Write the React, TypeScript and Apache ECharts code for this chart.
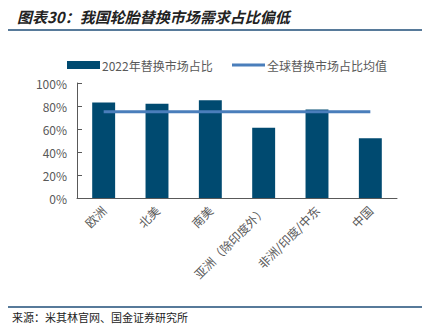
import React, { useEffect, useRef } from "react";
import * as echarts from "echarts";

const categories = ["欧洲", "北美", "南美", "亚洲（除印度外）", "非洲/印度/中东", "中国"];
const shareValues = [83, 82, 85, 61, 77, 52];
const globalAvg = [75, 75, 75, 75, 75, 75];
const yTicks = [0, 20, 40, 60, 80, 100];

const FONT = "'Noto Sans CJK SC', 'Noto Sans', sans-serif";

export default function App() {
  const ref = useRef<HTMLDivElement>(null);
  useEffect(() => {
    if (!ref.current) return;
    const chart = echarts.init(ref.current, undefined, { renderer: "svg" });
    chart.setOption({
      animation: false,
      textStyle: { fontFamily: FONT },
      title: {
        text: "图表30：我国轮胎替换市场需求占比偏低",
        left: 12,
        top: 4,
        textStyle: { fontSize: 15, fontStyle: "italic", fontWeight: "bold", color: "#222", fontFamily: FONT },
      },
      legend: [
        {
          top: 54,
          left: 62,
          itemWidth: 33,
          itemHeight: 8,
          itemGap: 2,
          textStyle: { fontSize: 12, color: "#595959", fontFamily: FONT, padding: [0, 0, 0, -3] },
          data: [{ name: "2022年替换市场占比", icon: "rect" }],
        },
        {
          top: 54,
          left: 227,
          itemWidth: 33,
          itemHeight: 3,
          textStyle: { fontSize: 12, color: "#595959", fontFamily: FONT, padding: [0, 0, 0, -3] },
          data: [{ name: "全球替换市场占比均值", icon: "rect" }],
        },
      ],
      grid: { left: 77, right: 25, top: 83, bottom: 127 },
      xAxis: {
        type: "category",
        data: categories,
        axisLine: { lineStyle: { color: "#595959" } },
        axisTick: { inside: true, alignWithLabel: false, lineStyle: { color: "#595959" } },
        axisLabel: { rotate: 45, fontSize: 12, color: "#595959", interval: 0, margin: 10 },
      },
      yAxis: {
        type: "value",
        min: 0,
        max: 100,
        interval: 20,
        axisLine: { show: true, lineStyle: { color: "#595959" } },
        axisTick: { show: true, inside: true, lineStyle: { color: "#595959" } },
        splitLine: { show: false },
        axisLabel: {
          fontSize: 12,
          color: "#595959",
          margin: 10,
          formatter: (v: number) => (yTicks.includes(v) ? v + "%" : ""),
        },
      },
      series: [
        {
          name: "2022年替换市场占比",
          type: "bar",
          data: shareValues,
          barWidth: "43%",
          itemStyle: { color: "#004A70" },
          z: 2,
        },
        {
          name: "全球替换市场占比均值",
          type: "line",
          data: globalAvg,
          symbol: "none",
          lineStyle: { color: "#4A7EBB", width: 3 },
          itemStyle: { color: "#4A7EBB" },
          z: 3,
        },
      ],
      graphic: [
        { type: "line", shape: { x1: 8, y1: 30, x2: 422, y2: 30 }, style: { stroke: "#1F4E79", lineWidth: 1.5 } },
        { type: "line", shape: { x1: 8, y1: 307, x2: 422, y2: 307 }, style: { stroke: "#1F4E79", lineWidth: 1.5 } },
        {
          type: "text",
          left: 12,
          top: 311,
          style: { text: "来源：米其林官网、国金证券研究所", fontSize: 11, fill: "#222", fontFamily: FONT },
        },
      ],
    });
    return () => chart.dispose();
  }, []);
  return <div ref={ref} style={{ width: 422, height: 325, position: "absolute", left: 0, top: 0 }} />;
}
